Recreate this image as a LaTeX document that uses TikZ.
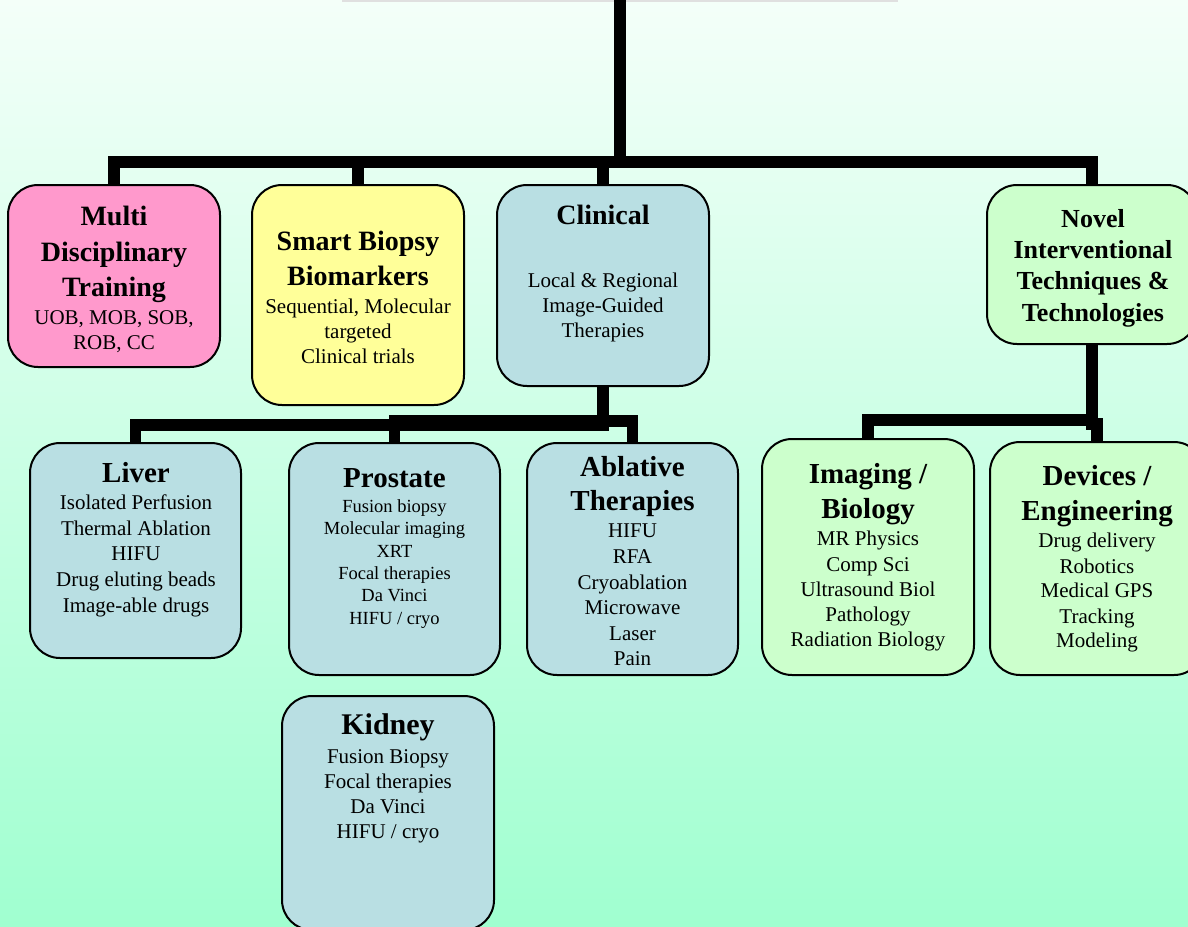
\documentclass[tikz,border=0pt]{standalone}
\usepackage{fontspec}
\setmainfont{Liberation Serif}
\definecolor{bgtop}{RGB}{244,255,249}
\definecolor{bgbot}{RGB}{160,255,208}
\definecolor{pinkbox}{RGB}{255,153,204}
\definecolor{yellowbox}{RGB}{255,255,153}
\definecolor{bluebox}{RGB}{185,223,227}
\definecolor{greenbox}{RGB}{204,255,204}
\begin{document}
\begin{tikzpicture}[x=1pt,y=-1pt,
  box/.style={draw=black, line width=2pt, rounded corners=30pt, inner sep=0pt},
  conn/.style={draw=black, line width=11.5pt, line join=miter},
  hd/.style={anchor=base, inner sep=0pt, font=\fontsize{28}{34}\selectfont\bfseries},
  hdn/.style={anchor=base, inner sep=0pt, font=\fontsize{26}{31}\selectfont\bfseries},
  hdb/.style={anchor=base, inner sep=0pt, font=\fontsize{29}{35}\selectfont\bfseries},
  hdk/.style={anchor=base, inner sep=0pt, font=\fontsize{30}{36}\selectfont\bfseries},
  bd/.style={anchor=base, inner sep=0pt, font=\fontsize{21}{25}\selectfont},
  bds/.style={anchor=base, inner sep=0pt, font=\fontsize{18.5}{22}\selectfont}]
\useasboundingbox (0,0) rectangle (1188,926);
\shade[top color=bgtop, bottom color=bgbot] (0,0) rectangle (1188,926);
\draw[line width=1.5pt, black!12] (342,0.75) -- (898,0.75);

% boxes
\node[box, fill=pinkbox, minimum width=212pt, minimum height=182pt] (multi) at (114,276) {};
\node[box, fill=yellowbox, minimum width=212pt, minimum height=220pt] (smart) at (358,295) {};
\node[box, fill=bluebox, minimum width=212pt, minimum height=201pt] (clin) at (603,285.5) {};
\node[box, fill=greenbox, minimum width=210pt, minimum height=159pt] (novel) at (1092,264.5) {};
\node[box, fill=bluebox, minimum width=211pt, minimum height=215pt] (liver) at (135.5,550.5) {};
\node[box, fill=bluebox, minimum width=211pt, minimum height=232pt] (prost) at (394.5,559) {};
\node[box, fill=bluebox, minimum width=211pt, minimum height=232pt] (abl) at (632.5,559) {};
\node[box, fill=bluebox, minimum width=212pt, minimum height=234pt] (kidney) at (388,813) {};
\node[box, fill=greenbox, minimum width=212pt, minimum height=236pt] (imaging) at (868,557) {};
\node[box, fill=greenbox, minimum width=214pt, minimum height=233pt] (devices) at (1097,558.5) {};

% connectors
\coordinate (root) at (620,-10);
\draw[conn] (root) -- (620,162) -- (multi.north |- 0,162) -- (multi.north);
\draw[conn] (root) -- (620,162) -- (smart.north |- 0,162) -- (smart.north);
\draw[conn] (root) -- (620,162) -- (clin.north |- 0,162) -- (clin.north);
\draw[conn] (root) -- (620,162) -- (novel.north |- 0,162) -- (novel.north);
\draw[conn] (clin.south) -- (clin.south |- 0,425) -- (liver.north |- 0,425) -- (liver.north);
\draw[conn] (clin.south) -- (clin.south |- 0,421) -- (prost.north |- 0,421) -- (prost.north);
\draw[conn] (clin.south) -- (clin.south |- 0,421) -- (abl.north |- 0,421) -- (abl.north);
\draw[conn] (novel.south) -- (novel.south |- 0,420) -- (imaging.north |- 0,420) -- (imaging.north);
\draw[conn] (novel.south) -- (novel.south |- 0,424) -- (devices.north |- 0,424) -- (devices.north);

% texts
\foreach \yy/\tt [count=\i] in {225/Multi, 261/Disciplinary, 296/Training}
  \node[hd] (multi-h\i) at (114,\yy) {\tt};
\foreach \yy/\tt [count=\i] in {324/{UOB, MOB, SOB,}, 349/{ROB, CC}}
  \node[bd] (multi-b\i) at (114,\yy) {\tt};

\foreach \yy/\tt [count=\i] in {250/Smart Biopsy, 285/Biomarkers}
  \node[hd] (smart-h\i) at (358,\yy) {\tt};
\foreach \yy/\tt [count=\i] in {313/{Sequential, Molecular}, 338/targeted, 363/Clinical trials}
  \node[bd] (smart-b\i) at (358,\yy) {\tt};

\node[hd] (clin-h1) at (603,224) {Clinical};
\foreach \yy/\tt [count=\i] in {287/Local \& Regional, 312/Image-Guided, 337/Therapies}
  \node[bd] (clin-b\i) at (603,\yy) {\tt};

\foreach \yy/\tt [count=\i] in {227/Novel, 258/Interventional, 289/Techniques \&, 321/Technologies}
  \node[hdn] (novel-h\i) at (1093,\yy) {\tt};

\node[hdb] (liver-h1) at (136,482) {Liver};
\foreach \yy/\tt [count=\i] in {509/Isolated Perfusion, 535/Thermal Ablation, 560/HIFU, 586/Drug eluting beads, 612/Image-able drugs}
  \node[bd] (liver-b\i) at (136,\yy) {\tt};

\node[hdb] (prost-h1) at (394.5,487) {Prostate};
\foreach \yy/\tt [count=\i] in {512/Fusion biopsy, 534/Molecular imaging, 557/XRT, 579/Focal therapies, 601/Da Vinci, 624/{HIFU / cryo}}
  \node[bds] (prost-b\i) at (394.5,\yy) {\tt};

\foreach \yy/\tt [count=\i] in {476/Ablative, 510/Therapies}
  \node[hdb] (abl-h\i) at (632.5,\yy) {\tt};
\foreach \yy/\tt [count=\i] in {537/HIFU, 563/RFA, 589/Cryoablation, 614/Microwave, 640/Laser, 665/Pain}
  \node[bd] (abl-b\i) at (632.5,\yy) {\tt};

\node[hdk] (kidney-h1) at (388,734) {Kidney};
\foreach \yy/\tt [count=\i] in {763/Fusion Biopsy, 788/Focal therapies, 813/Da Vinci, 838/{HIFU / cryo}}
  \node[bd] (kidney-b\i) at (388,\yy) {\tt};

\foreach \yy/\tt [count=\i] in {483/{Imaging /}, 518/Biology}
  \node[hdb] (imaging-h\i) at (868,\yy) {\tt};
\foreach \yy/\tt [count=\i] in {545/MR Physics, 571/Comp Sci, 596/Ultrasound Biol, 621/Pathology, 646/Radiation Biology}
  \node[bd] (imaging-b\i) at (868,\yy) {\tt};

\foreach \yy/\tt [count=\i] in {485/{Devices /}, 520/Engineering}
  \node[hdb] (devices-h\i) at (1097,\yy) {\tt};
\foreach \yy/\tt [count=\i] in {547/Drug delivery, 573/Robotics, 597/Medical GPS, 623/Tracking, 647/Modeling}
  \node[bd] (devices-b\i) at (1097,\yy) {\tt};
\end{tikzpicture}
\end{document}
